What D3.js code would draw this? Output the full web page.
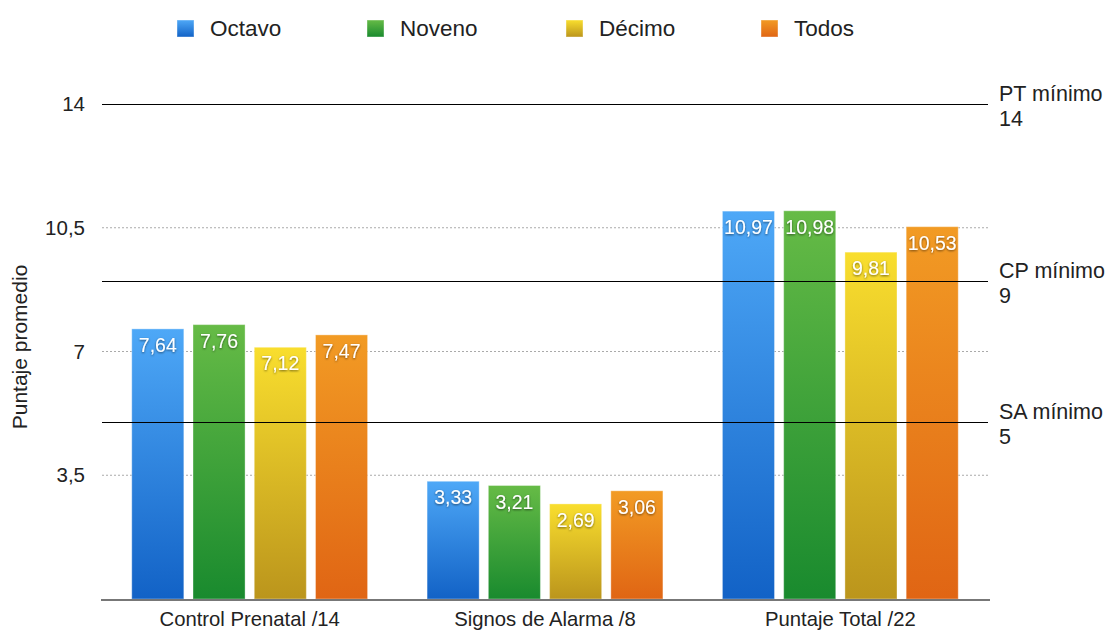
<!DOCTYPE html>
<html><head><meta charset="utf-8">
<script src="https://cdn.jsdelivr.net/npm/d3@7"></script>
<style>
body{margin:0;background:#fff;}
text{font-family:"Liberation Sans",Arial,Helvetica,sans-serif;}
</style></head>
<body>
<svg id="chart" width="1114" height="631"></svg>
<script>
const categories = ["Control Prenatal /14", "Signos de Alarma /8", "Puntaje Total /22"];
const seriesNames = ["Octavo", "Noveno", "Décimo", "Todos"];
const octavo = [7.64, 3.33, 10.97];
const noveno = [7.76, 3.21, 10.98];
const decimo = [7.12, 2.69, 9.81];
const todos = [7.47, 3.06, 10.53];
const yTicks = [3.5, 7, 10.5, 14];
const refLines = [{v:14, l1:"PT mínimo", l2:"14"}, {v:9, l1:"CP mínimo", l2:"9"}, {v:5, l1:"SA mínimo", l2:"5"}];
const seriesValues = [octavo, noveno, decimo, todos];
const gradTop = ["#4ea8f7", "#66bb46", "#f9de2e", "#f29b24"];
const gradBot = ["#1262c6", "#198a2e", "#bb951c", "#e06514"];

const svg = d3.select("#chart");
const L = 102, R = 988, T = 104, B = 599;
const y = d3.scaleLinear().domain([0,14]).range([B,T]);
const x0 = d3.scaleBand().domain(categories).range([L,R]);
const x1 = d3.scaleBand().domain(seriesNames).range([-122.5,122.5]).paddingInner(0.15).paddingOuter(0.075);

const defs = svg.append("defs");
seriesNames.forEach((s,i)=>{
  const g = defs.append("linearGradient").attr("id","g"+i).attr("x1",0).attr("y1",0).attr("x2",0).attr("y2",1);
  g.append("stop").attr("offset","0%").attr("stop-color",gradTop[i]);
  g.append("stop").attr("offset","100%").attr("stop-color",gradBot[i]);
});
const f = defs.append("filter").attr("id","sh").attr("x","-20%").attr("y","-20%").attr("width","140%").attr("height","140%");
f.append("feDropShadow").attr("dx",0).attr("dy",1).attr("stdDeviation",1).attr("flood-color","#000").attr("flood-opacity",0.55);

// grid
svg.append("g").selectAll("line").data(yTicks.filter(t=>t<14)).join("line")
  .attr("x1",L).attr("x2",R).attr("y1",d=>y(d)).attr("y2",d=>y(d))
  .attr("stroke","#aaa").attr("stroke-width",1).attr("stroke-dasharray","2,2");

// y axis labels
const yAxis = d3.axisLeft(y).tickValues(yTicks).tickSize(0).tickPadding(17)
  .tickFormat(d=>String(d).replace(".",","));
const ya = svg.append("g").attr("transform",`translate(${L},0)`).call(yAxis);
ya.select(".domain").remove();
ya.selectAll("text").attr("font-size",20.5).attr("fill","#222").attr("font-family",'"Liberation Sans",Arial,sans-serif');

svg.append("text").attr("transform",`translate(27,347) rotate(-90)`)
  .attr("text-anchor","middle").attr("font-size",21).attr("fill","#222").text("Puntaje promedio");

// bars
const groups = svg.append("g").selectAll("g").data(categories).join("g")
  .attr("transform",d=>`translate(${x0(d)+x0.bandwidth()/2},0)`);
groups.each(function(cat,ci){
  const g = d3.select(this);
  const data = seriesNames.map((s,si)=>({s,si,v:seriesValues[si][ci]}));
  g.selectAll("rect").data(data).join("rect")
    .attr("x",d=>x1(d.s)).attr("width",x1.bandwidth())
    .attr("y",d=>y(d.v)).attr("height",d=>B-y(d.v))
    .attr("fill",d=>`url(#g${d.si})`)
    .attr("stroke","rgba(255,255,255,0.35)").attr("stroke-width",1);
  g.selectAll("text").data(data).join("text")
    .attr("x",d=>x1(d.s)+x1.bandwidth()/2).attr("y",d=>y(d.v)+23)
    .attr("text-anchor","middle").attr("font-size",19.5).attr("fill","#fff")
    .attr("filter","url(#sh)")
    .text(d=>d.v.toFixed(2).replace(".",","));
});

// baseline
svg.append("line").attr("x1",L-1).attr("x2",R+2).attr("y1",B+1).attr("y2",B+1)
  .attr("stroke","#777").attr("stroke-width",2);

// x labels
const xAxis = d3.axisBottom(x0).tickSize(0).tickPadding(12);
const xa = svg.append("g").attr("transform",`translate(0,${B+1})`).call(xAxis);
xa.select(".domain").remove();
xa.selectAll("text").attr("font-size",20.3).attr("fill","#222").attr("font-family",'"Liberation Sans",Arial,sans-serif');

// reference lines
const rl = svg.append("g").selectAll("g").data(refLines).join("g");
rl.append("line").attr("x1",L).attr("x2",R).attr("y1",d=>Math.round(y(d.v))+0.5).attr("y2",d=>Math.round(y(d.v))+0.5)
  .attr("stroke","#000").attr("stroke-width",1);
rl.append("text").attr("x",999).attr("y",d=>y(d.v)-3).attr("font-size",21.5).attr("fill","#222").text(d=>d.l1);
rl.append("text").attr("x",999).attr("y",d=>y(d.v)+22).attr("font-size",21.5).attr("fill","#222").text(d=>d.l2);

// legend
const legX = [177, 367, 566, 761];
const lg = svg.append("g").selectAll("g").data(seriesNames).join("g")
  .attr("transform",(d,i)=>`translate(${legX[i]},20)`);
lg.append("rect").attr("width",17).attr("height",17).attr("fill",(d,i)=>`url(#g${i})`)
  .attr("stroke","rgba(255,255,255,0.4)");
lg.append("text").attr("x",33).attr("y",16).attr("font-size",22.5).attr("fill","#222").text(d=>d);
</script>
</body></html>
